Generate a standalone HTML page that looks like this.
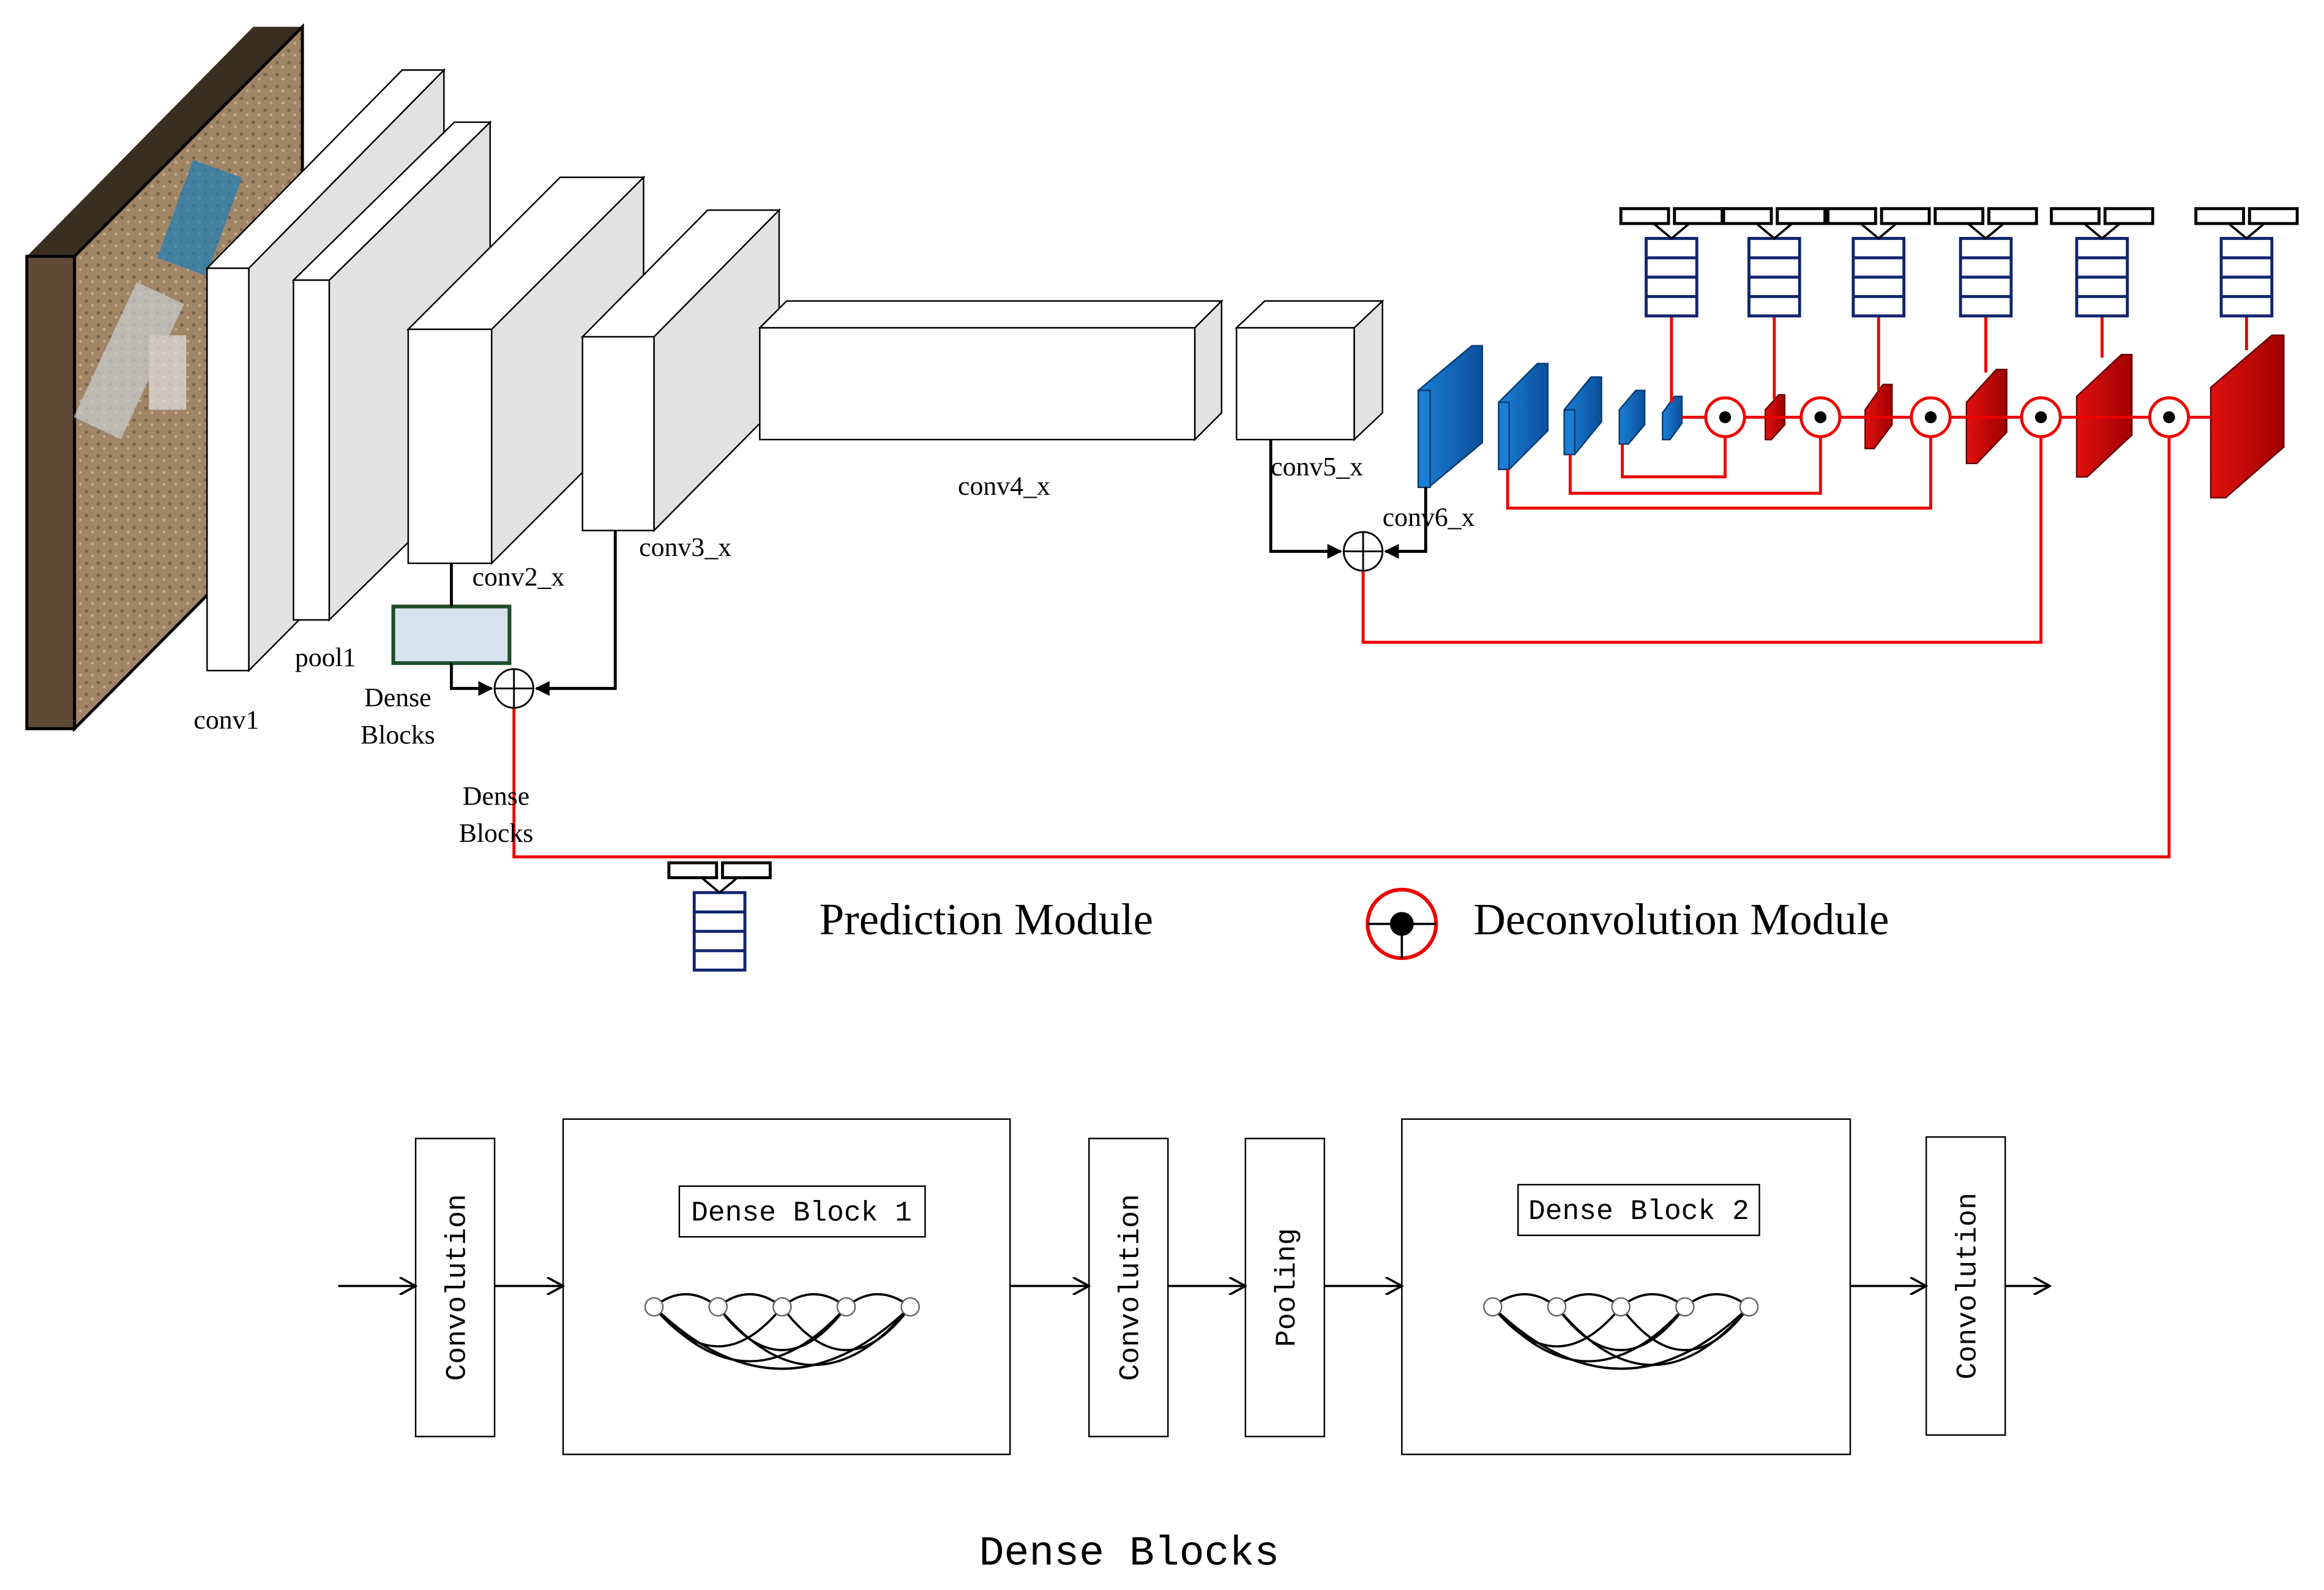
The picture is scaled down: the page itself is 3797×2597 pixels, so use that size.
<!DOCTYPE html>
<html><head><meta charset="utf-8"><style>
html,body{margin:0;padding:0;background:#fff;}
svg{display:block;}
text{font-family:"Liberation Serif",serif;fill:#000;}
.m text,text.m{font-family:"Liberation Mono",monospace;}
</style></head><body>
<svg width="3797" height="2597" viewBox="0 0 1560 1067" preserveAspectRatio="none" xmlns="http://www.w3.org/2000/svg">
<defs>
<marker id="ah" markerWidth="10" markerHeight="10" refX="9" refY="5" orient="auto" markerUnits="userSpaceOnUse"><path d="M0,0 L10,5 L0,10 z" fill="#000"/></marker>
<marker id="oa" markerWidth="12" markerHeight="12" refX="11" refY="6" orient="auto" markerUnits="userSpaceOnUse"><path d="M0,0 L11,6 L0,12" fill="none" stroke="#000" stroke-width="1.5"/></marker>
<linearGradient id="bl" x1="0" x2="1"><stop offset="0" stop-color="#1a7fd6"/><stop offset="1" stop-color="#0b4f9a"/></linearGradient>
<linearGradient id="rd" x1="0" x2="1"><stop offset="0" stop-color="#e01010"/><stop offset="1" stop-color="#a00000"/></linearGradient>
<pattern id="gr" width="8" height="8" patternUnits="userSpaceOnUse"><rect width="8" height="8" fill="#a08566"/><circle cx="2" cy="2" r="1.2" fill="#7d6449"/><circle cx="6" cy="5" r="1" fill="#c2ab8c"/></pattern>
<g id="pm" fill="#fff" stroke="#10256e" stroke-width="2">
<rect x="-17" y="20" width="34" height="52"/><line x1="-17" y1="33" x2="17" y2="33"/><line x1="-17" y1="46" x2="17" y2="46"/><line x1="-17" y1="59" x2="17" y2="59"/>
<rect x="-34" y="0" width="32" height="10" stroke="#000"/><rect x="2" y="0" width="32" height="10" stroke="#000"/>
<path d="M-12,10 L0,20 L12,10" fill="none" stroke="#000" stroke-width="1.5"/>
</g>
<g id="dc"><circle r="13" fill="#fff" stroke="#e00" stroke-width="2"/><circle r="4" fill="#000"/></g>
</defs>

<polygon points="18,172 50,172 203,18 170,18" fill="#3a2e20"/>
<polygon points="50,172 203,18 203,335 50,489" fill="url(#gr)"/>
<polygon points="18,172 50,172 50,489 18,489" fill="#5e4a37" stroke="#000" stroke-width="2"/>
<polygon points="50,172 203,18 203,335 50,489" fill="none" stroke="#000" stroke-width="2"/>
<g opacity="0.7"><rect x="115" y="110" width="35" height="70" fill="#1c7fb8" transform="rotate(20 130 150)"/><rect x="65" y="190" width="35" height="100" fill="#c9ced3" transform="rotate(25 80 250)"/><rect x="100" y="225" width="25" height="50" fill="#e4e4e4"/></g>

<g fill="#fff" stroke="#000" stroke-width="1">
<polygon points="167,180 298,47 298,318 167,450" fill="#e2e2e2"/>
<polygon points="139,180 167,180 298,47 270,47"/>
<rect x="139" y="180" width="28" height="270"/>
<polygon points="221,188 329,82 329,310 221,416" fill="#e2e2e2"/>
<polygon points="197,188 221,188 329,82 305,82"/>
<rect x="197" y="188" width="24" height="228"/>
<polygon points="330,221 432,119 432,276 330,378" fill="#e2e2e2"/>
<polygon points="274,221 330,221 432,119 376,119"/>
<rect x="274" y="221" width="56" height="157"/>
<polygon points="439,226 523,141 523,271 439,356" fill="#e2e2e2"/>
<polygon points="391,226 439,226 523,141 475,141"/>
<rect x="391" y="226" width="48" height="130"/>
<polygon points="802,220 820,202 820,277 802,295" fill="#e2e2e2"/>
<polygon points="510,220 802,220 820,202 528,202"/>
<rect x="510" y="220" width="292" height="75"/>
<polygon points="909,220 928,202 928,277 909,295" fill="#e2e2e2"/>
<polygon points="830,220 909,220 928,202 849,202"/>
<rect x="830" y="220" width="79" height="75"/>
</g>

<g stroke="#083a70" stroke-width="1">
<polygon points="952,262 988,232 995,232 995,297 959,327 952,327" fill="url(#bl)"/><rect x="952" y="262" width="8" height="65" fill="#1a7fd6"/>
<polygon points="1006,270 1032,244 1039,244 1039,289 1013,315 1006,315" fill="url(#bl)"/><rect x="1006" y="270" width="7" height="45" fill="#1a7fd6"/>
<polygon points="1050,275 1068,253 1075,253 1075,283 1057,305 1050,305" fill="url(#bl)"/><rect x="1050" y="275" width="7" height="30" fill="#1a7fd6"/>
<polygon points="1087,275 1098,262 1104,262 1104,285 1093,298 1087,298" fill="url(#bl)"/>
<polygon points="1116,277 1124,266 1129,266 1129,284 1121,295 1116,295" fill="url(#bl)"/>
</g>
<g stroke="#600" stroke-width="1">
<polygon points="1185,275 1194,265 1198,265 1198,285 1189,295 1185,295" fill="url(#rd)"/>
<polygon points="1252,275 1264,258 1270,258 1270,285 1258,301 1252,301" fill="url(#rd)"/>
<polygon points="1320,270 1340,248 1347,248 1347,290 1327,311 1320,311" fill="url(#rd)"/>
<polygon points="1394,266 1424,238 1431,238 1431,292 1401,320 1394,320" fill="url(#rd)"/>
<polygon points="1484,260 1525,225 1533,225 1533,300 1494,334 1484,334" fill="url(#rd)"/>
</g>

<g stroke="#e00" stroke-width="2" fill="none">
<line x1="1129" y1="280" x2="1484" y2="280"/>
<polyline points="1089,298 1089,320 1158,320 1158,290"/>
<polyline points="1054,305 1054,331 1222,331 1222,290"/>
<polyline points="1012,315 1012,341 1296,341 1296,290"/>
<polyline points="915,383 915,431 1370,431 1370,290"/>
<polyline points="345,475 345,575 1456,575 1456,290"/>
<line x1="1122" y1="212" x2="1122" y2="270"/>
<line x1="1191" y1="212" x2="1191" y2="268"/>
<line x1="1261" y1="212" x2="1261" y2="262"/>
<line x1="1333" y1="212" x2="1333" y2="250"/>
<line x1="1411" y1="212" x2="1411" y2="240"/>
<line x1="1508" y1="212" x2="1508" y2="235"/>
</g>
<use href="#dc" x="1158" y="280"/><use href="#dc" x="1222" y="280"/><use href="#dc" x="1296" y="280"/><use href="#dc" x="1370" y="280"/><use href="#dc" x="1456" y="280"/>

<use href="#pm" x="1122" y="140"/><use href="#pm" x="1191" y="140"/><use href="#pm" x="1261" y="140"/><use href="#pm" x="1333" y="140"/><use href="#pm" x="1411" y="140"/><use href="#pm" x="1508" y="140"/>

<rect x="264" y="407" width="78" height="38" fill="#d6e2ee" stroke="#1e4d2b" stroke-width="2.5"/>
<g stroke="#000" stroke-width="2" fill="none">
<polyline points="303,378 303,407"/>
<polyline points="303,445 303,462 330,462" marker-end="url(#ah)"/>
<polyline points="413,356 413,462 360,462" marker-end="url(#ah)"/>
<polyline points="853,295 853,370 900,370" marker-end="url(#ah)"/>
<polyline points="957,327 957,370 930,370" marker-end="url(#ah)"/>
</g>
<g fill="#fff" stroke="#000" stroke-width="1.2">
<circle cx="345" cy="462" r="13"/><line x1="332" y1="462" x2="358" y2="462"/><line x1="345" y1="449" x2="345" y2="475"/>
<circle cx="915" cy="370" r="13"/><line x1="902" y1="370" x2="928" y2="370"/><line x1="915" y1="357" x2="915" y2="383"/>
</g>

<g font-size="18">
<text x="130" y="489">conv1</text>
<text x="198" y="447">pool1</text>
<text x="317" y="393">conv2_x</text>
<text x="429" y="373">conv3_x</text>
<text x="643" y="332">conv4_x</text>
<text x="853" y="319">conv5_x</text>
<text x="928" y="353">conv6_x</text>
<text x="267" y="474" text-anchor="middle">Dense</text><text x="267" y="499" text-anchor="middle">Blocks</text>
<text x="333" y="540" text-anchor="middle">Dense</text><text x="333" y="565" text-anchor="middle">Blocks</text>
</g>

<use href="#pm" x="483" y="579"/>
<text x="550" y="627" font-size="30">Prediction Module</text>
<circle cx="941" cy="620" r="23" fill="#fff" stroke="#e00" stroke-width="2.5"/>
<line x1="918" y1="620" x2="964" y2="620" stroke="#000" stroke-width="1.5"/><line x1="941" y1="620" x2="941" y2="643" stroke="#000" stroke-width="1.5"/>
<circle cx="941" cy="620" r="8" fill="#000"/>
<text x="989" y="627" font-size="30">Deconvolution Module</text>

<g fill="#fff" stroke="#000" stroke-width="1">
<rect x="279" y="764" width="53" height="200"/>
<rect x="378" y="751" width="300" height="225"/>
<rect x="731" y="764" width="53" height="200"/>
<rect x="836" y="764" width="53" height="200"/>
<rect x="941" y="751" width="301" height="225"/>
<rect x="1293" y="763" width="53" height="200"/>
<rect x="456" y="796" width="165" height="34"/>
<rect x="1019" y="795" width="162" height="34"/>
</g>
<g stroke="#000" stroke-width="1.5" fill="none">
<line x1="227" y1="863" x2="279" y2="863" marker-end="url(#oa)"/>
<line x1="332" y1="863" x2="378" y2="863" marker-end="url(#oa)"/>
<line x1="678" y1="863" x2="731" y2="863" marker-end="url(#oa)"/>
<line x1="784" y1="863" x2="836" y2="863" marker-end="url(#oa)"/>
<line x1="889" y1="863" x2="941" y2="863" marker-end="url(#oa)"/>
<line x1="1242" y1="863" x2="1293" y2="863" marker-end="url(#oa)"/>
<line x1="1346" y1="863" x2="1376" y2="863" marker-end="url(#oa)"/>
</g>
<g class="m" font-size="19" text-anchor="middle">
<text x="538" y="819">Dense Block 1</text>
<text x="1100" y="818">Dense Block 2</text>
<text transform="translate(312,864) rotate(-90)">Convolution</text>
<text transform="translate(764,864) rotate(-90)">Convolution</text>
<text transform="translate(869,864) rotate(-90)">Pooling</text>
<text transform="translate(1326,863) rotate(-90)">Convolution</text>
<text x="758" y="1050" font-size="28">Dense Blocks</text>
</g>
<g id="arcs" stroke="#000" stroke-width="1.5" fill="none">
<path d="M439,877 Q460,860 482,877"/><path d="M482,877 Q503,860 525,877"/><path d="M525,877 Q546,860 568,877"/><path d="M568,877 Q589,860 611,877"/>
<path d="M439,877 Q482,930 525,877"/><path d="M439,877 Q503,950 568,877"/><path d="M439,877 Q525,960 611,877"/>
<path d="M482,877 Q525,935 568,877"/><path d="M482,877 Q546,955 611,877"/><path d="M525,877 Q568,935 611,877"/>
</g>
<use href="#arcs" x="563" y="0"/>
<g fill="#fff" stroke="#666" stroke-width="1">
<circle cx="439" cy="877" r="6"/><circle cx="482" cy="877" r="6"/><circle cx="525" cy="877" r="6"/><circle cx="568" cy="877" r="6"/><circle cx="611" cy="877" r="6"/>
<circle cx="1002" cy="877" r="6"/><circle cx="1045" cy="877" r="6"/><circle cx="1088" cy="877" r="6"/><circle cx="1131" cy="877" r="6"/><circle cx="1174" cy="877" r="6"/>
</g>
</svg>
</body></html>
